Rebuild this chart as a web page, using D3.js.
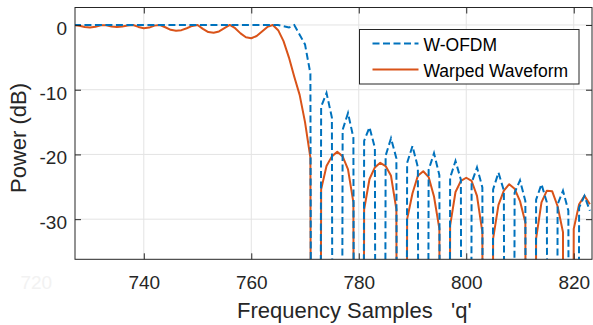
<!DOCTYPE html>
<html>
<head>
<meta charset="utf-8">
<script src="https://cdn.jsdelivr.net/npm/d3@7"></script>
<style>
  body { margin: 0; background: #fff; }
  svg { display: block; font-family: "Liberation Sans", Arial, sans-serif; }
</style>
</head>
<body>
<svg id="chart" width="593" height="325"></svg>
<script>
// deep nulls fall far below the visible range, so the lines drop straight down
const NULL_DB = -400;

const q = [727, 728, 729, 730, 731, 732, 733, 734, 735, 736, 737, 738, 739, 740, 741, 742, 743, 744, 745, 746,
  747, 748, 749, 750, 751, 752, 753, 754, 755, 756, 757, 758, 759, 760, 761, 762, 763, 764, 765, 766,
  767, 768, 769, 770, 771, 772, 773, 774, 775, 776, 777, 778, 779, 780, 781, 782, 783, 784, 785, 786,
  787, 788, 789, 790, 791, 792, 793, 794, 795, 796, 797, 798, 799, 800, 801, 802, 803, 804, 805, 806,
  807, 808, 809, 810, 811, 812, 813, 814, 815, 816, 817, 818, 819, 820, 821, 822, 823];

const wofdm = [0, 0, 0, 0, 0, 0, 0, 0, 0, 0, 0, 0, 0, 0, 0, 0, 0, 0, 0, 0,
  0, 0, 0, 0, 0, 0, 0, 0, 0, 0, 0, 0, 0, 0, 0, 0, 0, 0, 0, -0.2,
  -0.4, 0, -1.5, -3.0, -7.5, NULL_DB, -12.6, -10.5, -14.3, NULL_DB, -16.2, -13.6, -17.4, NULL_DB, -17.9, -15.8, -19.0, NULL_DB, -20.2, -17.5,
  -20.6, NULL_DB, -21.3, -18.7, -22.0, NULL_DB, -22.4, -19.8, -23.2, NULL_DB, -23.6, -21.0, -23.9, NULL_DB, -24.4, -22.0, -25.1, NULL_DB, -25.4, -22.8,
  -25.6, NULL_DB, -25.9, -24.0, -27.2, NULL_DB, -27.0, -24.6, -27.4, NULL_DB, -27.7, -25.6, -28.7, NULL_DB, -28.2, -26.4, -28.7];

const warped = [0, -0.12, -0.3, -0.38, -0.28, -0.05, -0.05, -0.25, -0.32, -0.25, -0.08, 0, -0.3, -0.5, -0.4, -0.1, 0, -0.35, -0.75, -0.9,
  -0.8, -0.5, -0.15, 0, -0.6, -1.1, -1.2, -1.0, -0.5, 0, -0.5, -1.3, -1.9, -2.05, -1.7, -1.0, -0.3, 0, -0.8, -2.5,
  -5.0, -8.0, -10.8, -15.0, -20.5, NULL_DB, -25.4, -21.8, -20.3, -19.6, -20.3, -22.3, -27.4, NULL_DB, -28.5, -23.8, -22.0, -21.3, -21.8, -23.3,
  -28.5, NULL_DB, -30.0, -26.0, -23.3, -22.6, -23.5, -26.5, -31.5, NULL_DB, -31.0, -25.8, -24.1, -23.6, -24.1, -26.4, -32.0, NULL_DB, -33.0, -27.8,
  -25.6, -24.6, -25.3, -27.2, -30.5, NULL_DB, -33.0, -27.4, -25.6, -25.7, -28.0, -32.0, NULL_DB, -31.5, -27.7, -26.4, -27.7];

const xTicks = [740, 760, 780, 800, 820];
const yTicks = [0, -10, -20, -30];
const seriesNames = ["W-OFDM", "Warped Waveform"];

const width = 593, height = 325;
const margin = {top: 7.5, right: 1, bottom: 65.7, left: 75};
const innerWidth = width - margin.left - margin.right;
const innerHeight = height - margin.top - margin.bottom;
const axisColor = "#262626";
const blue = "#0072BD", orange = "#D95319";

const svg = d3.select("#chart");

const xScale = d3.scaleLinear().domain([727.2, 823.4]).range([0, innerWidth]);
const yScale = d3.scaleLinear().domain([-36.2, 2.7]).range([innerHeight, 0]);

const g = svg.append("g")
  .attr("transform", `translate(${margin.left}, ${margin.top})`);

// grid
g.append("g").selectAll("line").data(xTicks).enter().append("line")
  .attr("x1", d => xScale(d)).attr("x2", d => xScale(d))
  .attr("y1", 0).attr("y2", innerHeight)
  .attr("stroke", "#e3e3e3").attr("stroke-width", 1);
g.append("g").selectAll("line").data(yTicks).enter().append("line")
  .attr("y1", d => yScale(d)).attr("y2", d => yScale(d))
  .attr("x1", 0).attr("x2", innerWidth)
  .attr("stroke", "#e3e3e3").attr("stroke-width", 1);

// ghost label left over at the far left
g.append("text")
  .attr("x", xScale(720)).attr("y", innerHeight + 16).attr("dy", "0.71em")
  .attr("text-anchor", "middle").attr("font-size", 19).attr("fill", "#f2f2f2")
  .text("720");

// curves
svg.append("clipPath").attr("id", "plotClip")
  .append("rect").attr("width", innerWidth).attr("height", innerHeight);

const lineFor = vals => d3.line()
  .x((d, i) => xScale(q[i]))
  .y(d => yScale(d))(vals);

const curves = g.append("g").attr("clip-path", "url(#plotClip)");
curves.append("path")
  .attr("d", lineFor(warped))
  .attr("fill", "none").attr("stroke", orange).attr("stroke-width", 2)
  .attr("stroke-linejoin", "round");
curves.append("path")
  .attr("d", lineFor(wofdm))
  .attr("fill", "none").attr("stroke", blue).attr("stroke-width", 2)
  .attr("stroke-dasharray", "7,3.5");

// axes
const fmt = d => String(d);
const xAxisG = g.append("g").attr("transform", `translate(0, ${innerHeight})`)
  .call(d3.axisBottom(xScale).tickValues(xTicks).tickFormat(fmt).tickSize(-6).tickSizeOuter(0).tickPadding(16));
const yAxisG = g.append("g")
  .call(d3.axisLeft(yScale).tickValues(yTicks).tickFormat(fmt).tickSize(-6).tickSizeOuter(0).tickPadding(8));
const topAxisG = g.append("g")
  .call(d3.axisTop(xScale).tickValues(xTicks).tickSize(-6).tickSizeOuter(0));
const rightAxisG = g.append("g").attr("transform", `translate(${innerWidth}, 0)`)
  .call(d3.axisRight(yScale).tickValues(yTicks).tickSize(-6).tickSizeOuter(0));
topAxisG.selectAll("text").remove();
rightAxisG.selectAll("text").remove();

g.selectAll(".domain").remove();
g.selectAll(".tick line").attr("stroke", axisColor);
xAxisG.selectAll("text").attr("font-size", 19).attr("fill", axisColor).attr("font-family", null);
yAxisG.selectAll("text").attr("font-size", 19).attr("fill", axisColor).attr("font-family", null)
  .attr("dy", "0.5em");

g.append("rect")
  .attr("width", innerWidth).attr("height", innerHeight)
  .attr("fill", "none").attr("stroke", axisColor).attr("stroke-width", 1);

// axis labels
svg.append("text")
  .attr("x", 237).attr("y", 318)
  .attr("font-size", 22).attr("fill", axisColor)
  .attr("xml:space", "preserve")
  .text("Frequency Samples   'q'");

svg.append("text")
  .attr("transform", `translate(26, 138) rotate(-90)`)
  .attr("text-anchor", "middle")
  .attr("font-size", 22).attr("fill", axisColor)
  .text("Power (dB)");

// legend
const legend = svg.append("g").attr("transform", "translate(359.5, 29.5)");
legend.append("rect")
  .attr("width", 219.5).attr("height", 54.5)
  .attr("fill", "#fff").attr("stroke", axisColor).attr("stroke-width", 1);

const rows = [{name: seriesNames[0], color: blue, dash: "7,3.5", y: 14},
              {name: seriesNames[1], color: orange, dash: null, y: 40}];
const row = legend.selectAll("g.row").data(rows).enter().append("g").attr("class", "row");
row.append("line")
  .attr("x1", 13).attr("x2", 59)
  .attr("y1", d => d.y).attr("y2", d => d.y)
  .attr("stroke", d => d.color).attr("stroke-width", 2)
  .attr("stroke-dasharray", d => d.dash);
row.append("text")
  .attr("x", 64).attr("y", d => d.y + 7.5)
  .attr("font-size", 17.5).attr("fill", "#000")
  .text(d => d.name);
</script>
</body>
</html>
